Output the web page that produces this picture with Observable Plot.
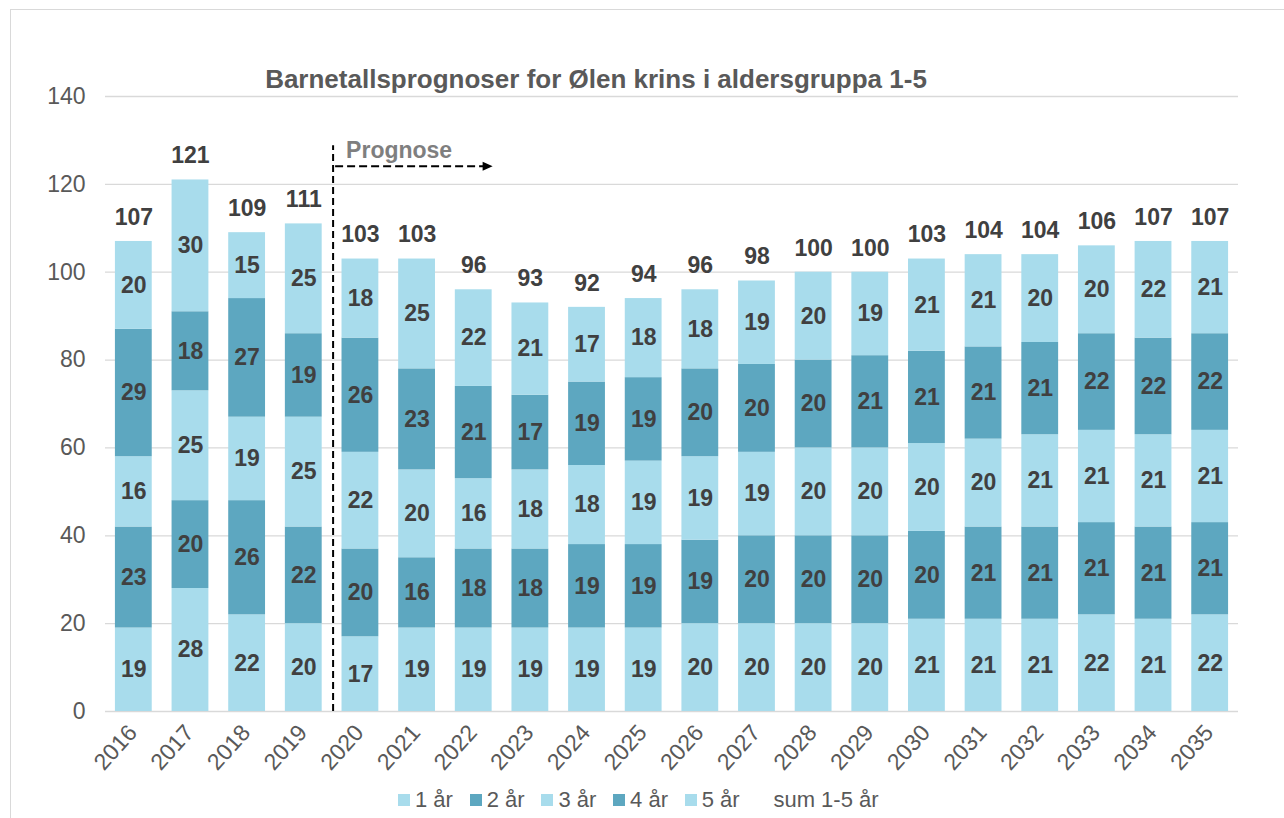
<!DOCTYPE html>
<html>
<head>
<meta charset="utf-8">
<script src="https://cdn.jsdelivr.net/npm/d3@7"></script>
<script src="https://cdn.jsdelivr.net/npm/@observablehq/plot@0.6"></script>
<style>
  html, body { margin: 0; padding: 0; background: #fff; overflow: hidden; }
  body { width: 1284px; height: 818px; position: relative; font-family: "Liberation Sans", Arial, sans-serif; }
  #frame { position: absolute; left: 10px; top: 9px; width: 1300px; height: 840px; border: 1px solid #d9d9d9; box-sizing: border-box; }
  #chart { position: absolute; left: 0; top: 0; }
  #title { position: absolute; left: 0; width: 1192px; top: 64px; text-align: center; font-weight: bold; font-size: 26px; color: #595959; }
  #legend { position: absolute; left: 398px; top: 787px; display: flex; font-size: 22px; color: #595959; }
  .item { display: flex; align-items: center; width: 71.7px; white-space: nowrap; }
  .sw { width: 12px; height: 12px; margin-right: 5px; flex: none; }
</style>
</head>
<body>
<div id="frame"></div>
<div id="chart"></div>
<div id="title">Barnetallsprognoser for Ølen krins i aldersgruppa 1-5</div>
<div id="legend"></div>
<script>
const years = ["2016","2017","2018","2019","2020","2021","2022","2023","2024","2025","2026","2027","2028","2029","2030","2031","2032","2033","2034","2035"];
const series = ["1 år","2 år","3 år","4 år","5 år"];
const colors = ["#a8dcec","#5da7c0","#a8dcec","#5da7c0","#a8dcec"];
const age1 = [19,28,22,20,17,19,19,19,19,19,20,20,20,20,21,21,21,22,21,22];
const age2 = [23,20,26,22,20,16,18,18,19,19,19,20,20,20,20,21,21,21,21,21];
const age3 = [16,25,19,25,22,20,16,18,18,19,19,19,20,20,20,20,21,21,21,21];
const age4 = [29,18,27,19,26,23,21,17,19,19,20,20,20,21,21,21,21,22,22,22];
const age5 = [20,30,15,25,18,25,22,21,17,18,18,19,20,19,21,21,20,20,22,21];
const sums = [107,121,109,111,103,103,96,93,92,94,96,98,100,100,103,104,104,106,107,107];
const yTicks = [0,20,40,60,80,100,120,140];
const prognoseStart = "2020";
const prognoseArrowEnd = "2022";
const prognoseLabel = "Prognose";
const sumLabel = "sum 1-5 år";

const values = [age1, age2, age3, age4, age5];
const long = [];
years.forEach((yr, i) => {
  series.forEach((s, j) => long.push({year: yr, series: s, value: values[j][i]}));
});
const totals = years.map((yr, i) => ({year: yr, sum: sums[i]}));

const plot = Plot.plot({
  width: 1284,
  height: 818,
  marginTop: 96,
  marginBottom: 107,
  marginLeft: 105,
  marginRight: 46,
  style: {fontFamily: "'Liberation Sans', Arial, sans-serif", background: "transparent", overflow: "visible"},
  x: {domain: years, paddingInner: 0.35, paddingOuter: 0.175, round: false, label: null},
  y: {domain: [0, 140], label: null},
  color: {domain: series, range: colors},
  marks: [
    Plot.gridY(yTicks, {stroke: "#d9d9d9", strokeOpacity: 1, strokeWidth: 1.3}),
    Plot.axisY(yTicks, {tickSize: 0, tickPadding: 20, fontSize: 23, fill: "#595959", label: null}),
    Plot.axisX({tickSize: 0, tickRotate: -48, tickPadding: 17, dx: -1, fontSize: 23, fill: "#595959", label: null}),
    Plot.barY(long, {x: "year", y: "value", fill: "series", order: null}),
    Plot.text(long, Plot.stackY({x: "year", y: "value", z: "series", order: null, text: "value", fontWeight: "bold", fontSize: 23, fill: "#404040"})),
    Plot.text(totals, {x: "year", y: "sum", text: "sum", dy: -24, fontWeight: "bold", fontSize: 23, fill: "#404040"})
  ]
});
document.getElementById("chart").appendChild(plot);

// Prognose divider, label and arrow, positioned through the plot's scales
const xs = plot.scale("x"), ys = plot.scale("y");
const bw = xs.bandwidth, step = xs.step;
const ns = "http://www.w3.org/2000/svg";
const xDiv = xs.apply(prognoseStart) - (step - bw) / 2 + 1.5;
const mk = (tag, attrs) => { const e = document.createElementNS(ns, tag); for (const k in attrs) e.setAttribute(k, attrs[k]); plot.appendChild(e); return e; };
mk("line", {x1: xDiv, x2: xDiv, y1: ys.apply(0), y2: ys.apply(128.8), stroke: "#000", "stroke-width": 2, "stroke-dasharray": "7,4"});
const yA = ys.apply(124);
const xEnd = xs.apply(prognoseArrowEnd) + bw + 1;
mk("line", {x1: xDiv + 2, x2: xEnd - 9, y1: yA, y2: yA, stroke: "#000", "stroke-width": 2, "stroke-dasharray": "8,4"});
mk("path", {d: `M${xEnd},${yA} L${xEnd - 10},${yA - 4.5} L${xEnd - 10},${yA + 4.5} Z`, fill: "#000"});
const t = mk("text", {x: xDiv + 13, y: ys.apply(127.3), "font-size": 23, "font-weight": "bold", fill: "#7f7f7f", "text-anchor": "start", "dominant-baseline": "middle", "font-family": "'Liberation Sans', Arial, sans-serif"});
t.textContent = prognoseLabel;

// legend
const legend = document.getElementById("legend");
series.concat([sumLabel]).forEach((s, i) => {
  const it = document.createElement("div");
  it.className = "item";
  const sw = document.createElement("span");
  sw.className = "sw";
  sw.style.background = i < series.length ? colors[i] : "transparent";
  it.appendChild(sw);
  it.appendChild(document.createTextNode(s));
  legend.appendChild(it);
});
</script>
</body>
</html>
